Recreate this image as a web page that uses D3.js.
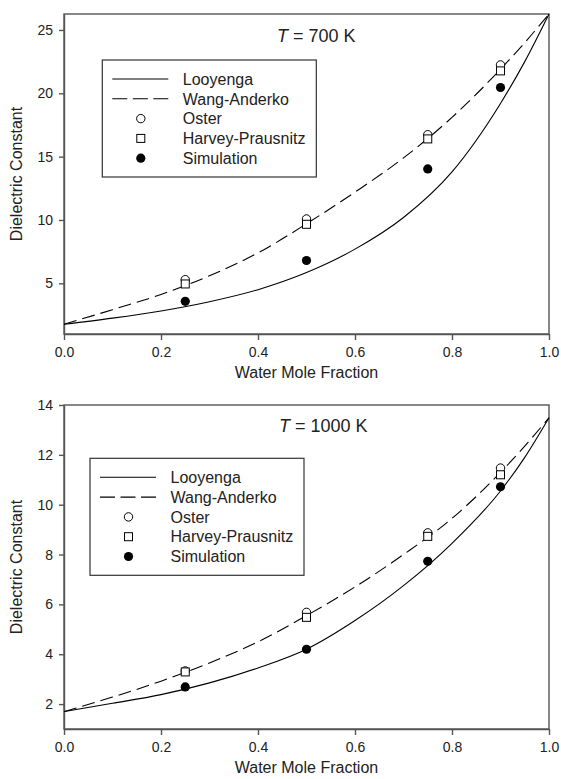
<!DOCTYPE html>
<html>
<head>
<meta charset="utf-8">
<script src="https://cdn.jsdelivr.net/npm/d3@7"></script>
<style>
body { margin: 0; background: #fff; }
svg { display: block; font-family: "Liberation Sans", Arial, sans-serif; }
</style>
</head>
<body>
<svg></svg>
<script>
// sample positions along the model curves (water mole fraction)
var curveX = [0, 0.1, 0.2, 0.3, 0.4, 0.5, 0.6, 0.7, 0.8, 0.9, 0.95, 1.0];
// compositions where points were computed
var pointX = [0.25, 0.5, 0.75, 0.9];

// T = 700 K
var looyenga700 = [1.77, 2.25, 2.82, 3.55, 4.5, 5.85, 7.7, 10.2, 13.8, 19.2, 22.5, 26.26];
var wang700 = [1.77, 2.92, 4.12, 5.6, 7.4, 9.7, 12.2, 14.9, 18.1, 21.9, 24.0, 26.26];
var oster700 = [5.29, 10.08, 16.73, 22.24];
var harvey700 = [4.95, 9.66, 16.4, 21.77];
var sim700 = [3.58, 6.8, 14.03, 20.46];

// T = 1000 K
var looyenga1000 = [1.7, 2.03, 2.38, 2.85, 3.45, 4.2, 5.35, 6.75, 8.45, 10.55, 11.9, 13.49];
var wang1000 = [1.7, 2.28, 2.92, 3.65, 4.5, 5.55, 6.7, 8.0, 9.45, 11.3, 12.35, 13.49];
var oster1000 = [3.33, 5.68, 8.87, 11.47];
var harvey1000 = [3.29, 5.48, 8.73, 11.2];
var sim1000 = [2.69, 4.2, 7.73, 10.72];

var xTicks = [0, 0.2, 0.4, 0.6, 0.8, 1.0];
var yTicks700 = [5, 10, 15, 20, 25];
var yTicks1000 = [2, 4, 6, 8, 10, 12, 14];
var legendNames = ["Looyenga", "Wang-Anderko", "Oster", "Harvey-Prausnitz", "Simulation"];

var svg = d3.select("svg").attr("width", 561).attr("height", 779);

var left = 64, right = 549;
var ink = "#222", frameCol = "#555";

function panel(o) {
  var x = d3.scaleLinear().domain([0, 1]).range([left, right]);
  var y = d3.scaleLinear().domain(o.yDomain).range([o.bottom, o.top]);
  var g = svg.append("g");

  // x axis
  var xa = g.append("g")
    .attr("transform", "translate(0," + o.bottom + ")")
    .call(d3.axisBottom(x).tickValues(xTicks).tickFormat(d3.format(".1f"))
      .tickSize(6).tickSizeOuter(0).tickPadding(7));
  // y axis
  var ya = g.append("g")
    .attr("transform", "translate(" + left + ",0)")
    .call(d3.axisLeft(y).tickValues(o.yTicks).tickFormat(d3.format("d"))
      .tickSize(5).tickSizeOuter(0).tickPadding(6));
  [xa, ya].forEach(function(a) {
    a.attr("font-size", 14).attr("font-family", null);
    a.selectAll("text").attr("fill", ink);
    a.selectAll("line").attr("stroke", frameCol).attr("stroke-width", 1.4);
    a.select(".domain").attr("stroke", frameCol).attr("stroke-width", 1.4);
  });

  // frame
  g.append("rect")
    .attr("x", left).attr("y", o.top)
    .attr("width", right - left).attr("height", o.bottom - o.top)
    .attr("fill", "none").attr("stroke", frameCol).attr("stroke-width", 1.4);

  // axis titles
  g.append("text")
    .attr("x", (left + right) / 2).attr("y", o.bottom + 44)
    .attr("text-anchor", "middle").attr("font-size", 16).attr("fill", ink)
    .text("Water Mole Fraction");
  g.append("text")
    .attr("transform", "translate(22," + (o.top + o.bottom) / 2 + ") rotate(-90)")
    .attr("text-anchor", "middle").attr("font-size", 16).attr("fill", ink)
    .text("Dielectric Constant");

  // temperature label
  var t = g.append("text")
    .attr("x", o.titleX).attr("y", o.titleY)
    .attr("font-size", 18).attr("fill", ink);
  t.append("tspan").attr("font-style", "italic").text("T");
  t.append("tspan").text(" = " + o.temp + " K");

  // curves
  var line = d3.line()
    .x(function(d) { return x(d[0]); })
    .y(function(d) { return y(d[1]); })
    .curve(d3.curveMonotoneX);
  g.append("path")
    .attr("d", line(d3.zip(curveX, o.looyenga)))
    .attr("fill", "none").attr("stroke", "#000").attr("stroke-width", 1.1);
  g.append("path")
    .attr("d", line(d3.zip(curveX, o.wang)))
    .attr("fill", "none").attr("stroke", "#000").attr("stroke-width", 1.1)
    .attr("stroke-dasharray", "13,6");

  // points
  g.selectAll(".oster").data(d3.zip(pointX, o.oster)).enter()
    .append("circle")
    .attr("cx", function(d) { return x(d[0]); })
    .attr("cy", function(d) { return y(d[1]); })
    .attr("r", 4.2).attr("fill", "#fff").attr("stroke", "#000").attr("stroke-width", 1);
  g.selectAll(".harvey").data(d3.zip(pointX, o.harvey)).enter()
    .append("rect")
    .attr("x", function(d) { return x(d[0]) - 4; })
    .attr("y", function(d) { return y(d[1]) - 4; })
    .attr("width", 8).attr("height", 8)
    .attr("fill", "#fff").attr("stroke", "#000").attr("stroke-width", 1);
  g.selectAll(".sim").data(d3.zip(pointX, o.sim)).enter()
    .append("circle")
    .attr("cx", function(d) { return x(d[0]); })
    .attr("cy", function(d) { return y(d[1]); })
    .attr("r", 4.6).attr("fill", "#000");

  // legend
  var lg = g.append("g").attr("transform", "translate(" + o.legX + "," + o.legY + ")");
  lg.append("rect").attr("width", 214).attr("height", 117)
    .attr("fill", "#fff").attr("stroke", "#333").attr("stroke-width", 1.2);
  legendNames.forEach(function(name, i) {
    var cy = 19 + i * 19.8;
    if (i === 0 || i === 1) {
      lg.append("line").attr("x1", 10).attr("x2", 66).attr("y1", cy).attr("y2", cy)
        .attr("stroke", "#000").attr("stroke-width", 1.1)
        .attr("stroke-dasharray", i === 1 ? "15,5.5" : null);
    } else if (i === 2) {
      lg.append("circle").attr("cx", 38.5).attr("cy", cy).attr("r", 4.2)
        .attr("fill", "#fff").attr("stroke", "#000");
    } else if (i === 3) {
      lg.append("rect").attr("x", 34.5).attr("y", cy - 4).attr("width", 8).attr("height", 8)
        .attr("fill", "#fff").attr("stroke", "#000");
    } else {
      lg.append("circle").attr("cx", 38.5).attr("cy", cy).attr("r", 4.6).attr("fill", "#000");
    }
    lg.append("text").attr("x", 80.5).attr("y", cy + 5.7)
      .attr("font-size", 16).attr("fill", ink).text(name);
  });
}

panel({
  top: 14, bottom: 334, yDomain: [1, 26.26], yTicks: yTicks700,
  temp: 700, titleX: 277, titleY: 42, legX: 102.3, legY: 60,
  looyenga: looyenga700, wang: wang700, oster: oster700, harvey: harvey700, sim: sim700
});
panel({
  top: 405, bottom: 729, yDomain: [1, 14], yTicks: yTicks1000,
  temp: 1000, titleX: 279, titleY: 432, legX: 90, legY: 458.3,
  looyenga: looyenga1000, wang: wang1000, oster: oster1000, harvey: harvey1000, sim: sim1000
});
</script>
</body>
</html>
